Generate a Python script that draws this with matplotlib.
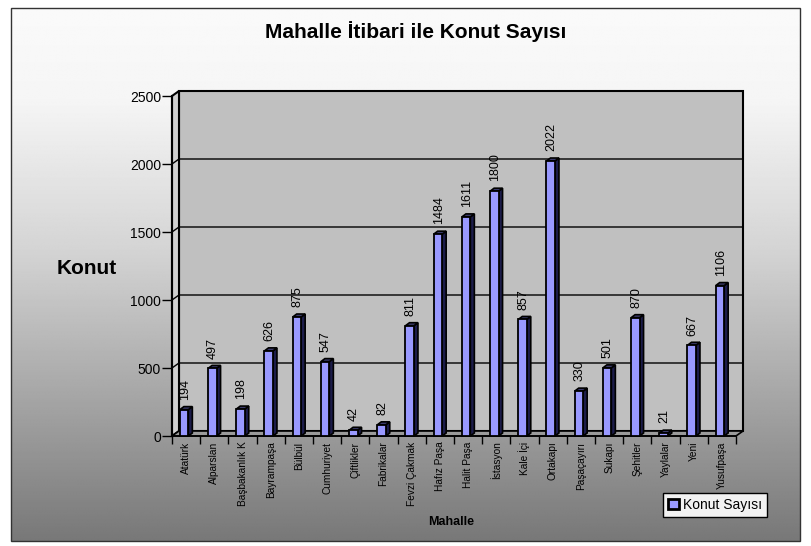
import numpy as np
import matplotlib
matplotlib.use('Agg')
import matplotlib.pyplot as plt
from matplotlib.patches import Polygon, Rectangle
from matplotlib.transforms import IdentityTransform

plt.rcParams['font.family'] = ['Liberation Sans', 'DejaVu Sans']

# ---------------- data ----------------
categories = ["Atatürk", "Alparslan", "Başbakanlık K", "Bayrampaşa", "Bülbül",
              "Cumhuriyet", "Çiftlikler", "Fabrikalar", "Fevzi Çakmak", "Hafız Paşa",
              "Halit Paşa", "İstasyon", "Kale İçi", "Ortakapı", "Paşaçayırı",
              "Sukapı", "Şehitler", "Yaylalar", "Yeni", "Yusufpaşa"]
values = [194, 497, 198, 626, 875, 547, 42, 82, 811, 1484,
          1611, 1800, 857, 2022, 330, 501, 870, 21, 667, 1106]
yticks = [0, 500, 1000, 1500, 2000, 2500]
title = "Mahalle İtibari ile Konut Sayısı"
ylabel = "Konut"
xlabel = "Mahalle"
series_name = "Konut Sayısı"

# ---------------- figure ----------------
W, H = 811, 546
fig = plt.figure(figsize=(W / 100, H / 100), dpi=100)
fig.patch.set_facecolor('white')

# gradient background of chart area
bg = fig.add_axes([0, 0, 1, 1], zorder=-10)
bg.set_xlim(0, W)
bg.set_ylim(H, 0)
bg.axis('off')
py = np.linspace(8, 541, 400)
gv = np.interp(py, [8, 100, 250, 400, 541], [250, 245, 212, 165, 120]) / 255.0
grad = np.tile(gv[:, None], (1, 4))
bg.imshow(grad, extent=(11, 800, 541, 8), aspect='auto', cmap='gray',
          vmin=0, vmax=1, interpolation='bilinear')
bg.add_patch(Rectangle((11, 8), 789, 533, fill=False, edgecolor='#333333', lw=1))

# main axes = front plane of 3D box
ax = fig.add_axes([172 / W, (H - 436) / H, 564 / W, 340 / H])
n = len(categories)
x = np.arange(n)
ax.set_xlim(-0.5, n - 0.5)
ax.set_ylim(yticks[0], yticks[-1])
ax.patch.set_visible(False)
for s in ax.spines.values():
    s.set_visible(False)

dx, dy = 7, 5           # wall depth offset (pixels)
bdx, bdy = 4, 3         # bar depth offset (pixels)
I = IdentityTransform()


def D(px, py_):
    return ax.transData.transform((px, py_))


def poly(pts, **kw):
    p = Polygon(np.array(pts), closed=True, transform=I, clip_on=False, **kw)
    ax.add_patch(p)
    return p


x0, x1 = -0.5, n - 0.5
y0, y1 = yticks[0], yticks[-1]
o = np.array([dx, dy])

# back wall
poly([D(x0, y0) + o, D(x1, y0) + o, D(x1, y1) + o, D(x0, y1) + o],
     facecolor='#c0c0c0', edgecolor='black', lw=1.5, zorder=0.5)
# side wall
poly([D(x0, y0), D(x0, y1), D(x0, y1) + o, D(x0, y0) + o],
     facecolor='#d0d0d0', edgecolor='black', lw=1.5, zorder=0.6)
# floor
poly([D(x0, y0), D(x1, y0), D(x1, y0) + o, D(x0, y0) + o],
     facecolor='#9a9a9a', edgecolor='black', lw=1.2, zorder=0.6)

# gridlines on back wall + side wall
for v in yticks[1:-1]:
    a = D(x0, v)
    b = D(x0, v) + o
    c = D(x1, v) + o
    ax.add_line(plt.Line2D([a[0], b[0], c[0]], [a[1], b[1], c[1]], transform=I,
                           color='black', lw=1, clip_on=False, zorder=0.8))

# left axis line
ax.spines['left'].set_visible(True)
ax.spines['left'].set_linewidth(1.5)
ax.spines['bottom'].set_visible(True)
ax.spines['bottom'].set_linewidth(1.2)

# bars
bw = 0.3
shift = -0.07
ob = np.array([bdx, bdy])
for xi, v in zip(x, values):
    xl, xr = xi + shift - bw / 2, xi + shift + bw / 2
    poly([D(xr, 0), D(xr, v), D(xr, v) + ob, D(xr, 0) + ob],
         facecolor='#1c1c4a', edgecolor='black', lw=1.2, zorder=2.8)
    poly([D(xl, v), D(xr, v), D(xr, v) + ob, D(xl, v) + ob],
         facecolor='#3a3a6a', edgecolor='black', lw=1.2, zorder=2.8)
ax.bar(x + shift, values, width=bw, color='#9999ff', edgecolor='black',
       lw=1.3, zorder=3, clip_on=False)

# value labels
for xi, v in zip(x, values):
    ax.annotate(str(v), (xi + shift, v), xytext=(0.5, 7), textcoords='offset points',
                rotation=90, ha='center', va='bottom', fontsize=9, zorder=5)

# ticks
ax.set_yticks(yticks)
ax.set_yticklabels([str(t) for t in yticks])
ax.tick_params(axis='y', length=7, width=1, direction='out', labelsize=10, pad=1)
ax.set_xticks(x)
ax.set_xticklabels(categories, rotation=90, fontsize=7.3, va='top', ha='center')
ax.set_xticks(np.arange(n + 1) - 0.5, minor=True)
ax.tick_params(axis='x', which='major', length=0, pad=4)
ax.tick_params(axis='x', which='minor', length=6, width=1, direction='out')

# texts
fig.text(416 / W, 1 - 32 / H, title, ha='center', va='center', fontsize=15,
         fontweight='bold')
fig.text(87 / W, 1 - 268 / H, ylabel, ha='center', va='center', fontsize=15,
         fontweight='bold')
fig.text(451 / W, 1 - 522 / H, xlabel, ha='center', va='center', fontsize=9,
         fontweight='bold')

# legend
h = Rectangle((0, 0), 1, 1, facecolor='#9999ff', edgecolor='black', lw=2)
leg = fig.legend(handles=[h], labels=[series_name], loc='upper left',
                 bbox_to_anchor=(663 / W, 1 - 493 / H), frameon=True, fancybox=False,
                 edgecolor='black', facecolor='#f2f2f2', framealpha=1, fontsize=10,
                 handlelength=0.8, handleheight=0.8, handletextpad=0.3,
                 borderpad=0.35, borderaxespad=0)
leg.get_frame().set_linewidth(1)

fig.savefig('out.png', dpi=100)
